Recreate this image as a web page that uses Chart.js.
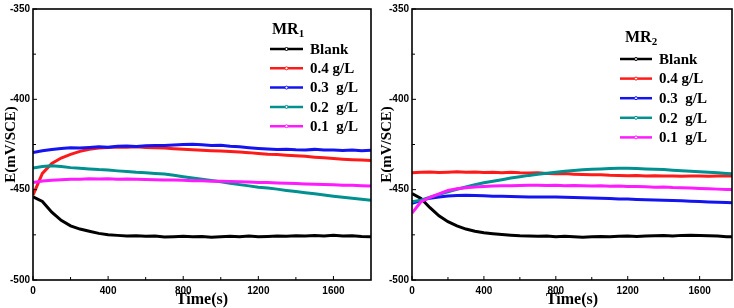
<!DOCTYPE html>
<html>
<head>
<meta charset="utf-8">
<script src="https://cdn.jsdelivr.net/npm/chart.js@4.4.0/dist/chart.umd.min.js"></script>
<style>
  body { margin: 0; background: #fff; width: 734px; height: 308px; position: relative; overflow: hidden; }
  canvas { position: absolute; top: 0; }
  #mr1 { left: 0; }
  #mr2 { left: 372px; }
</style>
</head>
<body>
<canvas id="mr1" width="372" height="308"></canvas>
<canvas id="mr2" width="362" height="308"></canvas>
<script>
// time (s), one reading every 50 s
const times = [0, 50, 100, 150, 200, 250, 300, 350, 400, 450, 500, 550, 600, 650, 700, 750, 800, 850, 900,
  950, 1000, 1050, 1100, 1150, 1200, 1250, 1300, 1350, 1400, 1450, 1500, 1550, 1600, 1650, 1700, 1750, 1800];

const seriesNames = ['Blank', '0.4 g/L', '0.3  g/L', '0.2  g/L', '0.1  g/L'];
const xTickValues = [0, 400, 800, 1200, 1600];
const yTickValues = [-500, -450, -400, -350];

// MR1, E (mV/SCE)
const mr1Blank = [-454.0, -456.5, -462.5, -467.0, -470.0, -471.8, -473.0, -474.2, -475.0, -475.3, -475.6, -475.5, -475.8,
  -475.7, -476.2, -476.0, -475.8, -476.1, -475.9, -476.3, -476.0, -475.8, -476.0, -475.7, -476.1, -475.9, -475.6,
  -475.8, -475.5, -475.7, -475.4, -475.6, -475.3, -475.7, -475.5, -475.9, -476.0];
const mr1c04 = [-453.0, -441.0, -435.5, -432.5, -430.5, -428.8, -427.6, -427.0, -426.7, -426.4, -426.5, -426.3, -426.6,
  -426.8, -427.0, -427.3, -427.6, -427.9, -428.2, -428.4, -428.6, -428.9, -429.2, -429.5, -430.0, -430.4, -430.6,
  -430.9, -431.2, -431.5, -432.0, -432.4, -432.7, -433.1, -433.4, -433.6, -433.9];
const mr1c03 = [-429.5, -428.5, -427.8, -427.2, -426.8, -427.0, -426.6, -426.2, -426.5, -426.0, -425.8, -426.1, -425.7,
  -425.5, -425.6, -425.3, -425.0, -424.8, -425.2, -425.5, -425.4, -426.0, -426.3, -426.8, -427.2, -427.5, -427.8,
  -427.6, -427.9, -428.0, -427.7, -428.1, -428.0, -428.3, -428.1, -428.4, -428.2];
const mr1c02 = [-438.0, -437.2, -436.8, -437.2, -437.8, -438.1, -438.5, -438.9, -439.1, -439.6, -440.0, -440.4, -440.6,
  -441.0, -441.3, -442.0, -442.8, -443.5, -444.2, -444.9, -445.6, -446.4, -447.2, -447.9, -448.6, -449.1, -449.7,
  -450.4, -451.0, -451.7, -452.3, -452.9, -453.6, -454.2, -454.8, -455.3, -455.8];
const mr1c01 = [-446.0, -445.2, -444.8, -444.5, -444.3, -444.2, -444.0, -444.1, -444.0, -444.2, -444.1, -444.3, -444.4,
  -444.5, -444.6, -444.7, -444.8, -445.0, -445.1, -445.3, -445.3, -445.5, -445.6, -445.8, -446.0, -446.1, -446.3,
  -446.5, -446.6, -446.8, -447.0, -447.1, -447.3, -447.5, -447.6, -447.8, -448.0];

// MR2, E (mV/SCE)
const mr2Blank = [-452.2, -454.9, -460.0, -464.5, -467.7, -470.0, -471.8, -473.0, -473.9, -474.4, -474.8, -475.2, -475.5,
  -475.6, -475.8, -475.7, -476.0, -475.8, -476.1, -476.3, -476.0, -475.9, -476.1, -475.8, -475.7, -475.9, -475.6,
  -475.5, -475.4, -475.6, -475.3, -475.2, -475.4, -475.5, -475.7, -476.0, -476.0];
const mr2c04 = [-440.6, -440.4, -440.2, -440.5, -440.3, -440.1, -440.4, -440.2, -440.5, -440.3, -440.6, -440.4, -440.7,
  -440.8, -440.6, -441.0, -441.2, -441.1, -441.4, -441.6, -441.8, -441.7, -442.0, -442.1, -442.3, -442.2, -442.4,
  -442.3, -442.5, -442.4, -442.6, -442.5, -442.4, -442.6, -442.5, -442.3, -442.6];
const mr2c03 = [-457.6, -456.0, -454.7, -454.0, -453.5, -453.2, -453.1, -453.2, -453.4, -453.6, -453.7, -453.8, -453.9,
  -454.0, -454.0, -454.1, -454.1, -454.2, -454.4, -454.5, -454.6, -454.8, -454.9, -455.1, -455.2, -455.4, -455.6,
  -455.7, -455.9, -456.0, -456.2, -456.4, -456.6, -456.8, -456.9, -457.1, -457.3];
const mr2c02 = [-456.7, -455.8, -454.2, -452.6, -451.2, -449.8, -448.5, -447.3, -446.2, -445.3, -444.5, -443.6, -442.9,
  -442.1, -441.5, -440.9, -440.3, -439.8, -439.4, -439.0, -438.7, -438.5, -438.3, -438.2, -438.2, -438.3, -438.5,
  -438.7, -438.9, -439.2, -439.5, -439.8, -440.1, -440.4, -440.7, -441.0, -441.3];
const mr2c01 = [-463.0, -456.7, -454.2, -452.3, -450.5, -449.5, -448.9, -448.5, -448.2, -448.0, -447.9, -447.8, -447.7,
  -447.6, -447.6, -447.7, -447.6, -447.8, -447.7, -447.9, -448.0, -447.9, -448.1, -448.0, -448.2, -448.3, -448.4,
  -448.6, -448.5, -448.8, -448.9, -449.1, -449.3, -449.5, -449.7, -449.9, -450.0];

const colors = ['#000000', '#ff1a1a', '#1414f0', '#009090', '#ff1aff'];

// box round the plot, inward ticks and the MR legend
const framePlugin = {
  id: 'frame',
  afterDatasetsDraw(chart, args, opts) {
    const { ctx, chartArea: a, scales: { x, y } } = chart;
    ctx.save();
    ctx.strokeStyle = '#000';
    ctx.lineWidth = 1;
    ctx.beginPath();
    x.ticks.forEach(t => {
      const px = x.getPixelForValue(t.value);
      ctx.moveTo(px, a.bottom); ctx.lineTo(px, a.bottom - 4);
      const m = x.getPixelForValue(t.value + 200);
      if (m < a.right - 2) { ctx.moveTo(m, a.bottom); ctx.lineTo(m, a.bottom - 3); }
    });
    y.ticks.forEach(t => {
      const py = y.getPixelForValue(t.value);
      ctx.moveTo(a.left, py); ctx.lineTo(a.left + 4, py);
      const m = y.getPixelForValue(t.value + 25);
      if (m > a.top + 2) { ctx.moveTo(a.left, m); ctx.lineTo(a.left + 3, m); }
    });
    ctx.stroke();
    ctx.lineWidth = 1.6;
    ctx.strokeRect(a.left, a.top, a.right - a.left, a.bottom - a.top);

    // legend
    const lx = a.right - opts.dx;
    const ty = a.top + opts.titleY;
    ctx.fillStyle = '#000';
    ctx.textAlign = 'left';
    ctx.textBaseline = 'alphabetic';
    ctx.font = 'bold 16px "Liberation Serif"';
    ctx.fillText('MR', lx + opts.titleDx, ty);
    const w = ctx.measureText('MR').width;
    ctx.font = 'bold 11px "Liberation Serif"';
    ctx.fillText(opts.sub, lx + opts.titleDx + w, ty + 3);
    ctx.font = 'bold 15px "Liberation Serif"';
    ctx.textBaseline = 'middle';
    chart.data.datasets.forEach((ds, i) => {
      const cy = a.top + opts.rowY + i * opts.step;
      ctx.strokeStyle = ds.borderColor;
      ctx.lineWidth = 2.5;
      ctx.beginPath();
      ctx.moveTo(lx, cy); ctx.lineTo(lx + opts.len, cy);
      ctx.stroke();
      ctx.beginPath();
      ctx.arc(lx + opts.len / 2, cy, 1.5, 0, Math.PI * 2);
      ctx.fillStyle = '#fff';
      ctx.fill();
      ctx.lineWidth = 1;
      ctx.stroke();
      ctx.fillStyle = '#000';
      ctx.fillText(ds.label, lx + opts.textDx, cy + 1);
    });
    ctx.restore();
  }
};

const tickFont = { family: '"Liberation Sans"', size: 10, weight: 'bold' };

function drawPanel(id, series, o) {
  return new Chart(document.getElementById(id), {
    type: 'line',
    data: {
      datasets: series.map((vals, i) => ({
        label: seriesNames[i],
        data: times.map((t, k) => ({ x: t, y: vals[k] })),
        borderColor: colors[i],
        borderWidth: 3,
        pointRadius: 0,
        fill: false,
        order: series.length - i
      }))
    },
    options: {
      responsive: false,
      animation: false,
      events: [],
      layout: { padding: { top: 5, right: o.padRight, bottom: 0, left: 0 }, autoPadding: false },
      scales: {
        x: {
          type: 'linear',
          min: 0,
          max: o.xMax,
          afterBuildTicks: s => { s.ticks = xTickValues.map(v => ({ value: v })); },
          afterFit: s => { s.height = 28; },
          grid: { display: false, drawTicks: false },
          border: { display: false },
          ticks: { padding: 5, color: '#000', font: tickFont, maxRotation: 0, callback: v => String(v) },
          title: {
            display: true, text: 'Time(s)', color: '#000',
            font: { family: '"Liberation Serif"', size: 16, weight: 'bold', lineHeight: 1 },
            padding: { top: 0, bottom: 0 }
          }
        },
        y: {
          min: -500,
          max: -350,
          afterBuildTicks: s => { s.ticks = yTickValues.map(v => ({ value: v })); },
          afterFit: s => { s.width = o.axisW; },
          grid: { display: false, drawTicks: false },
          border: { display: false },
          ticks: { padding: 3, color: '#000', font: tickFont, callback: v => String(v) },
          title: {
            display: true, text: 'E(mV/SCE)', color: '#000',
            font: { family: '"Liberation Serif"', size: 15, weight: 'bold', lineHeight: 1 },
            padding: { top: o.titlePad, bottom: 0 }
          }
        }
      },
      plugins: {
        legend: { display: false },
        tooltip: { enabled: false },
        frame: o.legend
      }
    },
    plugins: [framePlugin]
  });
}

drawPanel('mr1', [mr1Blank, mr1c04, mr1c03, mr1c02, mr1c01], {
  xMax: 1800, axisW: 33, padRight: 1, titlePad: 4,
  legend: { sub: '1', dx: 101, len: 33, textDx: 40, titleDx: 2, titleY: 24.5, rowY: 40, step: 19.3 }
});
drawPanel('mr2', [mr2Blank, mr2c04, mr2c03, mr2c02, mr2c01], {
  xMax: 1780, axisW: 40, padRight: 2, titlePad: 8,
  legend: { sub: '2', dx: 112, len: 32, textDx: 39, titleDx: 5, titleY: 33, rowY: 50, step: 19.6 }
});
</script>
</body>
</html>
